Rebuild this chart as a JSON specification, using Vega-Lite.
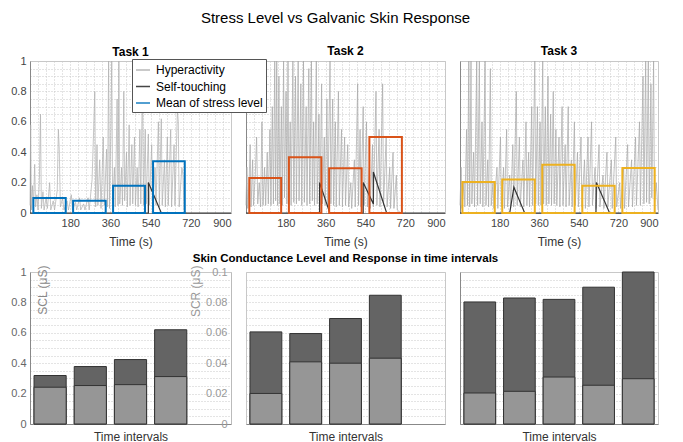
{
  "$schema": "https://vega.github.io/schema/vega-lite/v6.json",
  "padding": {"left": 10, "top": 10, "right": 5, "bottom": 2},
  "background": "white",
  "title": {"text": "Stress Level vs Galvanic Skin Response", "fontSize": 15, "fontWeight": "normal", "offset": 19, "anchor": "middle", "color": "#000"},
  "config": {
    "font": "Liberation Sans",
    "view": {"stroke": "#c8c8c8"},
    "axis": {"gridDash": [1, 2], "gridColor": "#c8c8c8", "ticks": false, "domainColor": "#888", "labelColor": "#444", "labelFontSize": 11, "titleFontSize": 12, "titleFontWeight": "normal", "titleColor": "#333", "labelPadding": 4, "labelOverlap": false},
    "title": {"fontSize": 12, "fontWeight": "bold", "offset": -4, "color": "#000"}
  },
  "datasets": {
    "h1": [
      {"t":0,"v":0.05},{"t":3,"v":0.58},{"t":6,"v":0.02},{"t":11,"v":0.18},{"t":15,"v":0.03},{"t":21,"v":0.32},{"t":25,"v":0.04},{"t":31,"v":0.12},{"t":36,"v":0.02},{"t":42,"v":0.22},{"t":47,"v":0.65},{"t":51,"v":0.03},{"t":58,"v":0.14},{"t":63,"v":0.02},{"t":72,"v":0.1},{"t":78,"v":0.03},{"t":88,"v":0.2},{"t":93,"v":0.02},{"t":104,"v":0.08},{"t":110,"v":0.02},{"t":122,"v":0.15},{"t":127,"v":0.55},{"t":131,"v":0.42},{"t":136,"v":0.04},{"t":146,"v":0.1},{"t":152,"v":0.02},{"t":166,"v":0.08},{"t":172,"v":0.02},{"t":185,"v":0.12},{"t":190,"v":0.02},{"t":204,"v":0.07},{"t":209,"v":0.02},{"t":222,"v":0.1},{"t":227,"v":0.02},{"t":240,"v":0.06},{"t":246,"v":0.02},{"t":260,"v":0.1},{"t":265,"v":0.02},{"t":278,"v":0.22},{"t":285,"v":0.55},{"t":290,"v":0.8},{"t":294,"v":0.04},{"t":300,"v":0.45},{"t":304,"v":0.05},{"t":312,"v":0.35},{"t":318,"v":0.03},{"t":328,"v":0.5},{"t":333,"v":0.05},{"t":343,"v":0.42},{"t":347,"v":0.04},{"t":352,"v":1.0},{"t":356,"v":0.03},{"t":362,"v":0.55},{"t":366,"v":1.0},{"t":370,"v":0.06},{"t":378,"v":0.3},{"t":382,"v":0.04},{"t":390,"v":0.75},{"t":394,"v":0.05},{"t":398,"v":1.0},{"t":402,"v":0.06},{"t":410,"v":0.3},{"t":414,"v":0.05},{"t":420,"v":0.8},{"t":424,"v":0.08},{"t":432,"v":0.4},{"t":436,"v":0.04},{"t":444,"v":0.58},{"t":448,"v":0.05},{"t":456,"v":0.45},{"t":460,"v":0.06},{"t":468,"v":0.5},{"t":472,"v":0.05},{"t":480,"v":0.3},{"t":484,"v":0.04},{"t":492,"v":0.55},{"t":496,"v":0.06},{"t":504,"v":0.9},{"t":508,"v":0.05},{"t":516,"v":0.55},{"t":520,"v":0.06},{"t":530,"v":0.52},{"t":534,"v":0.05},{"t":545,"v":0.45},{"t":549,"v":0.04},{"t":560,"v":0.3},{"t":564,"v":0.05},{"t":575,"v":0.6},{"t":579,"v":0.04},{"t":588,"v":0.62},{"t":592,"v":0.05},{"t":602,"v":0.35},{"t":606,"v":0.04},{"t":615,"v":0.5},{"t":619,"v":0.05},{"t":630,"v":0.55},{"t":634,"v":0.04},{"t":645,"v":0.45},{"t":649,"v":0.05},{"t":660,"v":0.68},{"t":664,"v":0.6},{"t":668,"v":0.04},{"t":680,"v":0.3},{"t":685,"v":0.25},{"t":690,"v":0.02},{"t":700,"v":0}
    ],
    "h2": [
      {"t":0,"v":0.05},{"t":4,"v":0.3},{"t":8,"v":0.03},{"t":14,"v":0.2},{"t":19,"v":0.45},{"t":23,"v":0.04},{"t":30,"v":0.35},{"t":34,"v":0.05},{"t":42,"v":0.25},{"t":48,"v":0.5},{"t":53,"v":0.06},{"t":60,"v":0.2},{"t":66,"v":0.04},{"t":72,"v":0.6},{"t":77,"v":0.05},{"t":84,"v":0.3},{"t":89,"v":0.05},{"t":96,"v":0.4},{"t":101,"v":0.06},{"t":108,"v":0.55},{"t":113,"v":0.05},{"t":119,"v":0.7},{"t":124,"v":0.06},{"t":130,"v":1.0},{"t":134,"v":0.08},{"t":139,"v":1.0},{"t":143,"v":0.05},{"t":149,"v":0.9},{"t":153,"v":0.06},{"t":160,"v":0.7},{"t":164,"v":0.05},{"t":170,"v":1.0},{"t":174,"v":0.1},{"t":181,"v":0.8},{"t":185,"v":0.06},{"t":190,"v":1.0},{"t":194,"v":0.08},{"t":200,"v":0.6},{"t":204,"v":0.05},{"t":212,"v":1.0},{"t":216,"v":0.07},{"t":224,"v":0.9},{"t":228,"v":0.06},{"t":236,"v":1.0},{"t":240,"v":0.08},{"t":248,"v":0.85},{"t":252,"v":0.05},{"t":260,"v":1.0},{"t":264,"v":0.07},{"t":272,"v":0.7},{"t":276,"v":0.05},{"t":284,"v":0.95},{"t":288,"v":0.06},{"t":296,"v":1.0},{"t":300,"v":0.08},{"t":306,"v":0.6},{"t":310,"v":0.05},{"t":318,"v":1.0},{"t":322,"v":0.06},{"t":330,"v":0.65},{"t":334,"v":0.05},{"t":342,"v":0.85},{"t":346,"v":0.06},{"t":354,"v":0.5},{"t":358,"v":0.05},{"t":366,"v":0.75},{"t":370,"v":0.04},{"t":380,"v":1.0},{"t":384,"v":0.06},{"t":392,"v":0.75},{"t":396,"v":0.05},{"t":404,"v":0.6},{"t":408,"v":0.04},{"t":418,"v":0.8},{"t":422,"v":0.05},{"t":432,"v":0.55},{"t":436,"v":0.04},{"t":446,"v":0.5},{"t":450,"v":0.05},{"t":460,"v":0.45},{"t":464,"v":0.04},{"t":474,"v":0.2},{"t":478,"v":0.03},{"t":490,"v":0.35},{"t":494,"v":0.04},{"t":505,"v":0.85},{"t":509,"v":0.05},{"t":516,"v":0.55},{"t":520,"v":0.04},{"t":530,"v":0.7},{"t":534,"v":0.05},{"t":545,"v":0.6},{"t":549,"v":0.04},{"t":558,"v":0.3},{"t":562,"v":0.03},{"t":572,"v":0.45},{"t":576,"v":0.04},{"t":588,"v":0.8},{"t":592,"v":0.05},{"t":602,"v":0.55},{"t":606,"v":0.04},{"t":618,"v":0.85},{"t":622,"v":0.05},{"t":634,"v":0.5},{"t":638,"v":0.04},{"t":650,"v":0.3},{"t":654,"v":0.03},{"t":665,"v":0.4},{"t":669,"v":0.03},{"t":680,"v":0.25},{"t":684,"v":0.02},{"t":700,"v":0}
    ],
    "h3": [
      {"t":0,"v":0.05},{"t":5,"v":0.3},{"t":9,"v":0.03},{"t":18,"v":0.2},{"t":22,"v":0.04},{"t":30,"v":0.55},{"t":34,"v":0.05},{"t":40,"v":1.0},{"t":44,"v":0.04},{"t":50,"v":1.0},{"t":54,"v":0.06},{"t":62,"v":0.4},{"t":66,"v":0.04},{"t":76,"v":1.0},{"t":80,"v":0.05},{"t":88,"v":1.0},{"t":92,"v":0.06},{"t":100,"v":0.6},{"t":104,"v":0.04},{"t":114,"v":1.0},{"t":118,"v":0.05},{"t":126,"v":0.35},{"t":130,"v":0.04},{"t":138,"v":0.95},{"t":142,"v":0.05},{"t":150,"v":0.2},{"t":154,"v":0.03},{"t":168,"v":0.3},{"t":172,"v":0.03},{"t":184,"v":0.5},{"t":188,"v":0.04},{"t":198,"v":0.3},{"t":202,"v":0.03},{"t":212,"v":0.55},{"t":216,"v":0.04},{"t":226,"v":0.25},{"t":230,"v":0.03},{"t":240,"v":0.45},{"t":244,"v":0.04},{"t":256,"v":0.8},{"t":260,"v":0.05},{"t":270,"v":0.5},{"t":274,"v":0.04},{"t":286,"v":0.35},{"t":290,"v":0.04},{"t":300,"v":0.6},{"t":304,"v":0.05},{"t":312,"v":0.4},{"t":316,"v":0.04},{"t":326,"v":0.7},{"t":330,"v":0.05},{"t":340,"v":1.0},{"t":344,"v":0.06},{"t":352,"v":0.7},{"t":356,"v":0.05},{"t":364,"v":0.6},{"t":368,"v":0.05},{"t":376,"v":1.0},{"t":380,"v":0.06},{"t":388,"v":0.7},{"t":392,"v":0.05},{"t":400,"v":0.9},{"t":404,"v":0.06},{"t":412,"v":0.65},{"t":416,"v":0.05},{"t":424,"v":0.8},{"t":428,"v":0.06},{"t":436,"v":0.55},{"t":440,"v":0.05},{"t":450,"v":0.5},{"t":454,"v":0.04},{"t":464,"v":0.7},{"t":468,"v":0.05},{"t":478,"v":0.45},{"t":482,"v":0.04},{"t":492,"v":0.7},{"t":496,"v":0.05},{"t":506,"v":0.35},{"t":510,"v":0.04},{"t":520,"v":0.6},{"t":524,"v":0.05},{"t":534,"v":0.4},{"t":538,"v":0.04},{"t":550,"v":0.5},{"t":554,"v":0.04},{"t":566,"v":0.35},{"t":570,"v":0.03},{"t":582,"v":0.5},{"t":586,"v":0.04},{"t":598,"v":0.6},{"t":602,"v":0.05},{"t":614,"v":0.3},{"t":618,"v":0.03},{"t":632,"v":0.45},{"t":636,"v":0.04},{"t":650,"v":0.25},{"t":654,"v":0.03},{"t":668,"v":0.4},{"t":672,"v":0.04},{"t":688,"v":0.35},{"t":692,"v":0.03},{"t":708,"v":0.5},{"t":712,"v":0.04},{"t":726,"v":0.2},{"t":730,"v":0.03},{"t":744,"v":0.3},{"t":748,"v":0.03},{"t":762,"v":0.45},{"t":766,"v":0.04},{"t":780,"v":0.35},{"t":784,"v":0.04},{"t":798,"v":0.5},{"t":802,"v":0.05},{"t":816,"v":0.6},{"t":820,"v":0.05},{"t":832,"v":0.9},{"t":836,"v":0.06},{"t":844,"v":1.0},{"t":848,"v":0.07},{"t":856,"v":1.0},{"t":860,"v":0.06},{"t":868,"v":0.85},{"t":872,"v":0.1},{"t":880,"v":1.0},{"t":884,"v":0.05},{"t":892,"v":0.2},{"t":900,"v":0.02}
    ],
    "s1": [{"t":0,"v":0},{"t":530,"v":0},{"t":530,"v":0.2},{"t":588,"v":0},{"t":900,"v":0}],
    "s2": [{"t":0,"v":0},{"t":333,"v":0},{"t":333,"v":0.2},{"t":379,"v":0},{"t":530,"v":0},{"t":530,"v":0.2},{"t":576,"v":0.06},{"t":576,"v":0.27},{"t":636,"v":0},{"t":900,"v":0}],
    "s3": [{"t":0,"v":0},{"t":226,"v":0},{"t":245,"v":0.17},{"t":294,"v":0},{"t":618,"v":0},{"t":620,"v":0.2},{"t":680,"v":0},{"t":900,"v":0}],
    "m1": [{"t0":15,"t1":160,"m":0.099},{"t0":193,"t1":339,"m":0.08},{"t0":372,"t1":515,"m":0.18},{"t0":551,"t1":693,"m":0.34}],
    "m2": [{"t0":15,"t1":159,"m":0.23},{"t0":194,"t1":341,"m":0.366},{"t0":376,"t1":523,"m":0.294},{"t0":558,"t1":705,"m":0.5}],
    "m3": [{"t0":11,"t1":158,"m":0.204},{"t0":192,"t1":340,"m":0.22},{"t0":374,"t1":521,"m":0.318},{"t0":556,"t1":703,"m":0.18},{"t0":738,"t1":885,"m":0.296}],
    "b1": [{"i":1,"total":0.319,"light":0.242},{"i":2,"total":0.378,"light":0.253},{"i":3,"total":0.424,"light":0.259},{"i":4,"total":0.62,"light":0.312}],
    "b2": [{"i":1,"total":0.0606,"light":0.0201},{"i":2,"total":0.0595,"light":0.0409},{"i":3,"total":0.0694,"light":0.040},{"i":4,"total":0.0847,"light":0.0433}],
    "b3": [{"i":1,"total":0.0803,"light":0.0204},{"i":2,"total":0.0829,"light":0.0215},{"i":3,"total":0.082,"light":0.0309},{"i":4,"total":0.090,"light":0.0255},{"i":5,"total":0.1,"light":0.0298}]
  },
  "columns": 3,
  "bounds": "flush",
  "spacing": {"row": 59, "column": 15},
  "concat": [
    {
      "width": 201, "height": 152,
      "title": "Task 1",
      "layer": [
        {"data": {"name": "h1"}, "mark": {"type": "line", "strokeWidth": 0.8, "opacity": 0.9},
         "encoding": {
           "x": {"field": "t", "type": "quantitative", "scale": {"domain": [0, 900], "nice": false}, "axis": {"title": "Time (s)", "titlePadding": 8, "tickCount": 1000, "labelOverlap": false, "values": [0,36,72,108,144,180,216,252,288,324,360,396,432,468,504,540,576,612,648,684,720,756,792,828,864,900], "labelExpr": "datum.value % 180 === 0 && datum.value > 0 ? datum.label : ''"}},
           "y": {"field": "v", "type": "quantitative", "scale": {"domain": [0, 1], "nice": false}, "axis": {"title": null, "tickCount": 1000, "labelOverlap": false, "values": [0,0.05,0.1,0.15,0.2,0.25,0.3,0.35,0.4,0.45,0.5,0.55,0.6,0.65,0.7,0.75,0.8,0.85,0.9,0.95,1], "labelExpr": "abs(datum.value*5 - round(datum.value*5)) < 0.001 ? format(datum.value, '~g') : ''"}},
           "stroke": {"datum": "Hyperactivity", "type": "nominal",
             "scale": {"domain": ["Hyperactivity", "Self-touching", "Mean of stress level"], "range": ["#b0b0b0", "#333333", "#0072bd"]},
             "legend": {"orient": "none", "legendX": 102, "legendY": -2, "title": null, "padding": 3, "strokeColor": "#555", "fillColor": "#ffffff", "labelFontSize": 12, "labelColor": "#000", "rowPadding": 2.5, "labelOffset": 5, "symbolSize": 196, "symbolStrokeWidth": 1.5, "zindex": 5,
               "encode": {"symbols": {
                 "shape": {"value": {"expr": "datum.value === 'Mean of stress level' ? 'M-1.15,-0.95H1.15V0.95H-1.15Z' : 'M-1.2,0H1.2'"}},
                 "fill": {"value": "transparent"},
                 "strokeWidth": {"value": {"expr": "datum.value === 'Mean of stress level' ? 2 : 1.5"}}
               }}}
           }
         }},
        {"data": {"name": "s1"}, "mark": {"type": "line", "strokeWidth": 1.2},
         "encoding": {"x": {"field": "t", "type": "quantitative"}, "y": {"field": "v", "type": "quantitative"}, "stroke": {"datum": "Self-touching", "type": "nominal"}}},
        {"data": {"name": "m1"}, "mark": {"type": "rect", "filled": false, "strokeWidth": 2},
         "encoding": {"x": {"field": "t0", "type": "quantitative"}, "x2": {"field": "t1"}, "y": {"field": "m", "type": "quantitative"}, "y2": {"datum": 0}, "stroke": {"datum": "Mean of stress level", "type": "nominal"}}}
      ]
    },
    {
      "width": 199, "height": 152,
      "title": {"text": "Task 2", "offset": 1},
      "layer": [
        {"data": {"name": "h2"}, "mark": {"type": "line", "strokeWidth": 0.8, "opacity": 0.9, "stroke": "#a8a8a8"},
         "encoding": {
           "x": {"field": "t", "type": "quantitative", "scale": {"domain": [0, 900], "nice": false}, "axis": {"title": "Time (s)", "titlePadding": 8, "tickCount": 1000, "labelOverlap": false, "values": [0,36,72,108,144,180,216,252,288,324,360,396,432,468,504,540,576,612,648,684,720,756,792,828,864,900], "labelExpr": "datum.value % 180 === 0 && datum.value > 0 ? datum.label : ''"}},
           "y": {"field": "v", "type": "quantitative", "scale": {"domain": [0, 1], "nice": false}, "axis": {"title": null, "labels": false, "tickCount": 1000, "values": [0,0.05,0.1,0.15,0.2,0.25,0.3,0.35,0.4,0.45,0.5,0.55,0.6,0.65,0.7,0.75,0.8,0.85,0.9,0.95,1]}}
         }},
        {"data": {"name": "s2"}, "mark": {"type": "line", "strokeWidth": 1.2, "stroke": "#333333"},
         "encoding": {"x": {"field": "t", "type": "quantitative"}, "y": {"field": "v", "type": "quantitative"}}},
        {"data": {"name": "m2"}, "mark": {"type": "rect", "filled": false, "strokeWidth": 2, "stroke": "#d95319"},
         "encoding": {"x": {"field": "t0", "type": "quantitative"}, "x2": {"field": "t1"}, "y": {"field": "m", "type": "quantitative"}, "y2": {"datum": 0}}}
      ]
    },
    {
      "width": 198, "height": 152,
      "title": {"text": "Task 3", "offset": 1},
      "layer": [
        {"data": {"name": "h3"}, "mark": {"type": "line", "strokeWidth": 0.8, "opacity": 0.9, "stroke": "#a8a8a8"},
         "encoding": {
           "x": {"field": "t", "type": "quantitative", "scale": {"domain": [0, 900], "nice": false}, "axis": {"title": "Time (s)", "titlePadding": 8, "tickCount": 1000, "labelOverlap": false, "values": [0,36,72,108,144,180,216,252,288,324,360,396,432,468,504,540,576,612,648,684,720,756,792,828,864,900], "labelExpr": "datum.value % 180 === 0 && datum.value > 0 ? datum.label : ''"}},
           "y": {"field": "v", "type": "quantitative", "scale": {"domain": [0, 1], "nice": false}, "axis": {"title": null, "labels": false, "tickCount": 1000, "values": [0,0.05,0.1,0.15,0.2,0.25,0.3,0.35,0.4,0.45,0.5,0.55,0.6,0.65,0.7,0.75,0.8,0.85,0.9,0.95,1]}}
         }},
        {"data": {"name": "s3"}, "mark": {"type": "line", "strokeWidth": 1.2, "stroke": "#333333"},
         "encoding": {"x": {"field": "t", "type": "quantitative"}, "y": {"field": "v", "type": "quantitative"}}},
        {"data": {"name": "m3"}, "mark": {"type": "rect", "filled": false, "strokeWidth": 2, "stroke": "#edb120"},
         "encoding": {"x": {"field": "t0", "type": "quantitative"}, "x2": {"field": "t1"}, "y": {"field": "m", "type": "quantitative"}, "y2": {"datum": 0}}}
      ]
    },
    {
      "width": 201, "height": 152,
      "data": {"name": "b1"},
      "encoding": {"x": {"field": "i", "type": "ordinal", "scale": {"domain": [1,2,3,4,5], "paddingInner": 0.2, "paddingOuter": 0.1}, "axis": {"labels": false, "title": "Time intervals", "grid": false, "titlePadding": 7}}},
      "layer": [
        {"mark": {"type": "bar", "fill": "#646464", "stroke": "#333", "strokeWidth": 1},
         "encoding": {"y": {"field": "total", "type": "quantitative", "scale": {"domain": [0, 1], "nice": false},
           "axis": {"tickCount": 1000, "labelOverlap": false, "values": [0,0.05,0.1,0.15,0.2,0.25,0.3,0.35,0.4,0.45,0.5,0.55,0.6,0.65,0.7,0.75,0.8,0.85,0.9,0.95,1], "labelExpr": "abs(datum.value*5 - round(datum.value*5)) < 0.001 ? format(datum.value, '~g') : ''", "labelColor": "#666",
             "title": "SCL (μS)", "titleColor": "#888", "titleX": 12, "titleY": -7, "titleAlign": "right", "titleBaseline": "middle", "titleAngle": 270}}}},
        {"mark": {"type": "bar", "fill": "#969696", "stroke": "#333", "strokeWidth": 1},
         "encoding": {"y": {"field": "light", "type": "quantitative"}}}
      ]
    },
    {
      "width": 199, "height": 152,
      "title": {"text": "Skin Conductance Level and Response in time intervals", "fontSize": 11.5, "offset": 1},
      "data": {"name": "b2"},
      "encoding": {"x": {"field": "i", "type": "ordinal", "scale": {"domain": [1,2,3,4,5], "paddingInner": 0.2, "paddingOuter": 0.1}, "axis": {"labels": false, "title": "Time intervals", "grid": false, "titlePadding": 7}}},
      "layer": [
        {"mark": {"type": "bar", "fill": "#646464", "stroke": "#333", "strokeWidth": 1},
         "encoding": {"y": {"field": "total", "type": "quantitative", "scale": {"domain": [0, 0.1], "nice": false},
           "axis": {"tickCount": 1000, "labelOverlap": false, "values": [0,0.005,0.01,0.015,0.02,0.025,0.03,0.035,0.04,0.045,0.05,0.055,0.06,0.065,0.07,0.075,0.08,0.085,0.09,0.095,0.1], "labelExpr": "abs(datum.value*50 - round(datum.value*50)) < 0.001 ? format(datum.value, '~g') : ''", "labelColor": "#999", "offset": 15, "domainColor": "#bbb",
             "title": "SCR (μS)", "titleColor": "#999", "titleX": -36, "titleY": -7, "titleAlign": "right", "titleBaseline": "middle", "titleAngle": 270}}}},
        {"mark": {"type": "bar", "fill": "#969696", "stroke": "#333", "strokeWidth": 1},
         "encoding": {"y": {"field": "light", "type": "quantitative"}}}
      ]
    },
    {
      "width": 198, "height": 152,
      "data": {"name": "b3"},
      "encoding": {"x": {"field": "i", "type": "ordinal", "scale": {"domain": [1,2,3,4,5], "paddingInner": 0.2, "paddingOuter": 0.1}, "axis": {"labels": false, "title": "Time intervals", "grid": false, "titlePadding": 7}}},
      "layer": [
        {"mark": {"type": "bar", "fill": "#646464", "stroke": "#333", "strokeWidth": 1},
         "encoding": {"y": {"field": "total", "type": "quantitative", "scale": {"domain": [0, 0.1], "nice": false},
           "axis": {"tickCount": 1000, "values": [0,0.005,0.01,0.015,0.02,0.025,0.03,0.035,0.04,0.045,0.05,0.055,0.06,0.065,0.07,0.075,0.08,0.085,0.09,0.095,0.1], "labels": false, "title": null}}}},
        {"mark": {"type": "bar", "fill": "#969696", "stroke": "#333", "strokeWidth": 1},
         "encoding": {"y": {"field": "light", "type": "quantitative"}}}
      ]
    }
  ]
}
